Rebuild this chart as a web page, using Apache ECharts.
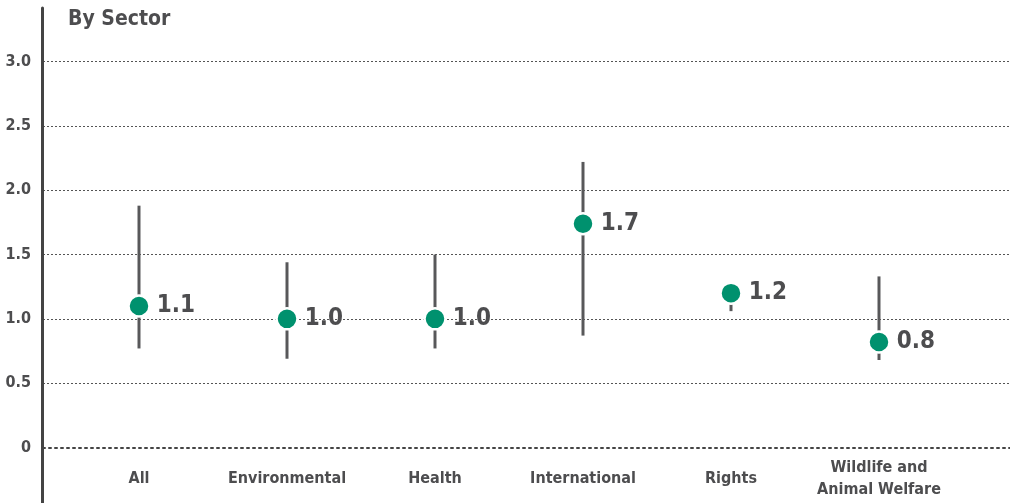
<!DOCTYPE html>
<html>
<head>
<meta charset="utf-8">
<script src="https://cdn.jsdelivr.net/npm/echarts@6/dist/echarts.min.js"></script>
<style>
html,body{margin:0;padding:0;background:#fff;}
#c{width:1010px;height:503px;}
</style>
</head>
<body>
<div id="c"></div>
<script>
const categories = ['All', 'Environmental', 'Health', 'International', 'Rights', 'Wildlife and\nAnimal Welfare'];
const means = [1.10, 1.00, 1.00, 1.74, 1.20, 0.82];
const lows  = [0.77, 0.69, 0.77, 0.87, 1.06, 0.68];
const highs = [1.88, 1.44, 1.50, 2.22, 1.27, 1.33];
const meanLabels = ['1.1', '1.0', '1.0', '1.7', '1.2', '0.8'];
const yTicks = [0, 0.5, 1.0, 1.5, 2.0, 2.5, 3.0];

const FONT = '"DejaVu Sans Condensed", "Liberation Sans Narrow", sans-serif';
const TXT = '#4d4d4f';

const chart = echarts.init(document.getElementById('c'), null, {renderer: 'canvas'});

const option = {
  animation: false,
  backgroundColor: '#fff',
  title: {
    text: 'By Sector',
    left: 63, top: 4,
    textStyle: {fontFamily: FONT, fontSize: 21, fontWeight: 'bold', color: TXT}
  },
  grid: [
    {left: 43, right: 0, top: 61.6, bottom: 55.5},
    {left: 65, right: 57, top: 61.6, bottom: 55.5},
    {left: 42, width: 1, top: 8, bottom: 0}
  ],
  xAxis: [
    {
      gridIndex: 0, type: 'value', min: 0, max: 1,
      axisLine: {show: true, lineStyle: {color: '#444', width: 2, type: [2, 4]}},
      axisTick: {show: false}, axisLabel: {show: false}, splitLine: {show: false}
    },
    {
      gridIndex: 1, type: 'category', data: categories, boundaryGap: true,
      axisLine: {show: false}, axisTick: {show: false}, splitLine: {show: false},
      axisLabel: {
        margin: 31, verticalAlign: 'middle', interval: 0,
        fontFamily: FONT, fontSize: 16, fontWeight: 'bold', color: TXT, lineHeight: 22
      }
    },
    {
      gridIndex: 2, type: 'value', show: false
    }
  ],
  yAxis: [
    {
      gridIndex: 0, type: 'value', min: 0, max: 3, interval: 0.5,
      axisLine: {show: false}, axisTick: {show: false},
      axisLabel: {
        margin: 12, fontFamily: FONT, fontSize: 16, fontWeight: 'bold', color: TXT,
        formatter: v => (v === 0 ? '0' : v.toFixed(1))
      },
      splitLine: {show: true, showMinLine: false, lineStyle: {color: '#555', width: 1, type: [2, 2]}}
    },
    {
      gridIndex: 1, type: 'value', min: 0, max: 3, show: false
    },
    {
      gridIndex: 2, type: 'value', min: 0, max: 1,
      axisLine: {show: true, lineStyle: {color: '#444', width: 3}},
      axisTick: {show: false}, axisLabel: {show: false}, splitLine: {show: false}
    }
  ],
  series: [
    {
      type: 'custom',
      xAxisIndex: 1, yAxisIndex: 1,
      data: categories.map((c, i) => [i, lows[i], highs[i]]),
      renderItem: function (params, api) {
        const p1 = api.coord([api.value(0), api.value(1)]);
        const p2 = api.coord([api.value(0), api.value(2)]);
        return {
          type: 'line',
          shape: {x1: p1[0], y1: p1[1], x2: p2[0], y2: p2[1]},
          style: {stroke: '#58585a', lineWidth: 3}
        };
      },
      z: 2, clip: false
    },
    {
      type: 'scatter',
      xAxisIndex: 1, yAxisIndex: 1,
      data: means.map((m, i) => [i, m]),
      symbol: 'circle', symbolSize: 21,
      itemStyle: {color: '#00916e', borderColor: '#fff', borderWidth: 2.5, opacity: 1},
      label: {
        show: true, position: 'right', distance: 6,
        formatter: p => meanLabels[p.dataIndex],
        fontFamily: FONT, fontSize: 24, fontWeight: 'bold', color: TXT
      },
      emphasis: {disabled: true},
      z: 3, clip: false
    }
  ]
};
chart.setOption(option);
</script>
</body>
</html>
